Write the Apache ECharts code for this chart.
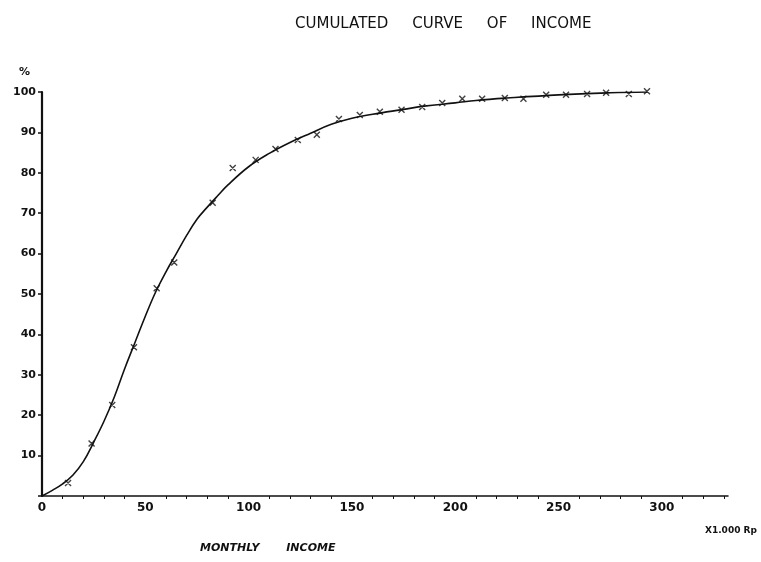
<!DOCTYPE html>
<html>
<head>
<meta charset="utf-8">
<script src="https://cdn.jsdelivr.net/npm/echarts@6/dist/echarts.min.js"></script>
<style>html,body{margin:0;padding:0;background:#fff}#c{width:761px;height:562px}</style>
</head>
<body>
<div id="c"></div>
<script>
// Observed points: monthly income (x 1000 Rp) vs cumulated percentage
var incomeX = [12.6, 24, 34, 44.5, 55.5, 64, 82.6, 92.3, 103.4, 113, 123.8, 133, 143.7, 153.8, 163.5, 174, 184, 193.7, 203.4, 213, 224, 233, 244, 253.6, 263.8, 273, 284, 292.8];
var cumPct  = [3.2, 13, 22.5, 36.8, 51.4, 57.8, 72.6, 81.2, 83.2, 85.9, 88.1, 89.4, 93.3, 94.3, 95.1, 95.6, 96.3, 97.3, 98.3, 98.3, 98.5, 98.3, 99.3, 99.3, 99.5, 99.8, 99.5, 100.2];
// Fitted curve
var curveX = [0, 5, 10, 15, 20, 25, 30, 35, 40, 45, 50, 55, 60, 65, 70, 75, 80, 85, 90, 100, 110, 120, 130, 140, 150, 160, 175, 185, 200, 210, 225, 250, 275, 293];
var curveY = [0, 1.4, 3, 5.2, 8.5, 13.3, 18.5, 24.5, 31.5, 38, 44.5, 50.5, 55.5, 60, 64.5, 68.5, 71.5, 74.3, 77, 81.5, 84.8, 87.5, 89.8, 92, 93.5, 94.5, 95.7, 96.5, 97.3, 97.9, 98.5, 99.3, 99.8, 100];
var xTicks = [0, 50, 100, 150, 200, 250, 300];
var yTicks = [10, 20, 30, 40, 50, 60, 70, 80, 90, 100];

var pts = incomeX.map(function (x, i) { return [x, cumPct[i]]; });
var crv = curveX.map(function (x, i) { return [x, curveY[i]]; });

var chart = echarts.init(document.getElementById('c'), null, {renderer: 'canvas'});
var ink = '#111';
chart.setOption({
  backgroundColor: '#fff',
  animation: false,
  title: {
    text: 'CUMULATED     CURVE     OF     INCOME',
    left: 290, top: 12,
    textStyle: {fontFamily: 'DejaVu Sans', fontSize: 15, fontWeight: 'normal', color: ink}
  },
  grid: {left: 42, right: 33, top: 92, bottom: 66},
  xAxis: {
    type: 'value', min: 0, max: 332, interval: 50,
    axisLine: {lineStyle: {color: ink, width: 1.5}},
    axisTick: {show: false},
    minorTick: {show: true, splitNumber: 5, length: 3, lineStyle: {color: ink, width: 1}},
    splitLine: {show: false},
    axisLabel: {
      fontFamily: 'DejaVu Sans', fontWeight: 'bold', fontSize: 12, color: ink, margin: 6,
      formatter: function (v) { return xTicks.indexOf(v) >= 0 ? String(v) : ''; }
    }
  },
  yAxis: {
    type: 'value', min: 0, max: 100, interval: 10,
    axisLine: {lineStyle: {color: ink, width: 2.2}},
    axisTick: {show: true, length: 4, lineStyle: {color: ink, width: 1.5}},
    splitLine: {show: false},
    axisLabel: {
      fontFamily: 'DejaVu Sans', fontWeight: 'bold', fontSize: 11, color: ink, margin: 6,
      formatter: function (v) { return yTicks.indexOf(v) >= 0 ? String(v) : ''; }
    }
  },
  graphic: [
    {type: 'text', left: 19, top: 67, style: {text: '%', font: 'bold 11px "DejaVu Sans"', fill: ink}},
    {type: 'text', left: 200, top: 543, style: {text: 'MONTHLY       INCOME', font: 'italic bold 11px "DejaVu Sans"', fill: ink}},
    {type: 'text', left: 705, top: 526, style: {text: 'X1.000 Rp', font: 'bold 9px "DejaVu Sans"', fill: ink}}
  ],
  series: [
    {
      type: 'line', data: crv, smooth: 0.4, showSymbol: false,
      lineStyle: {color: ink, width: 1.6}, z: 2
    },
    {
      type: 'scatter', data: pts, clip: false,
      symbol: 'path://M0,0 L10,10 M10,0 L0,10 Z',
      symbolSize: 6,
      itemStyle: {color: 'none', borderColor: ink, borderWidth: 1.4},
      z: 3
    }
  ]
});
</script>
</body>
</html>
